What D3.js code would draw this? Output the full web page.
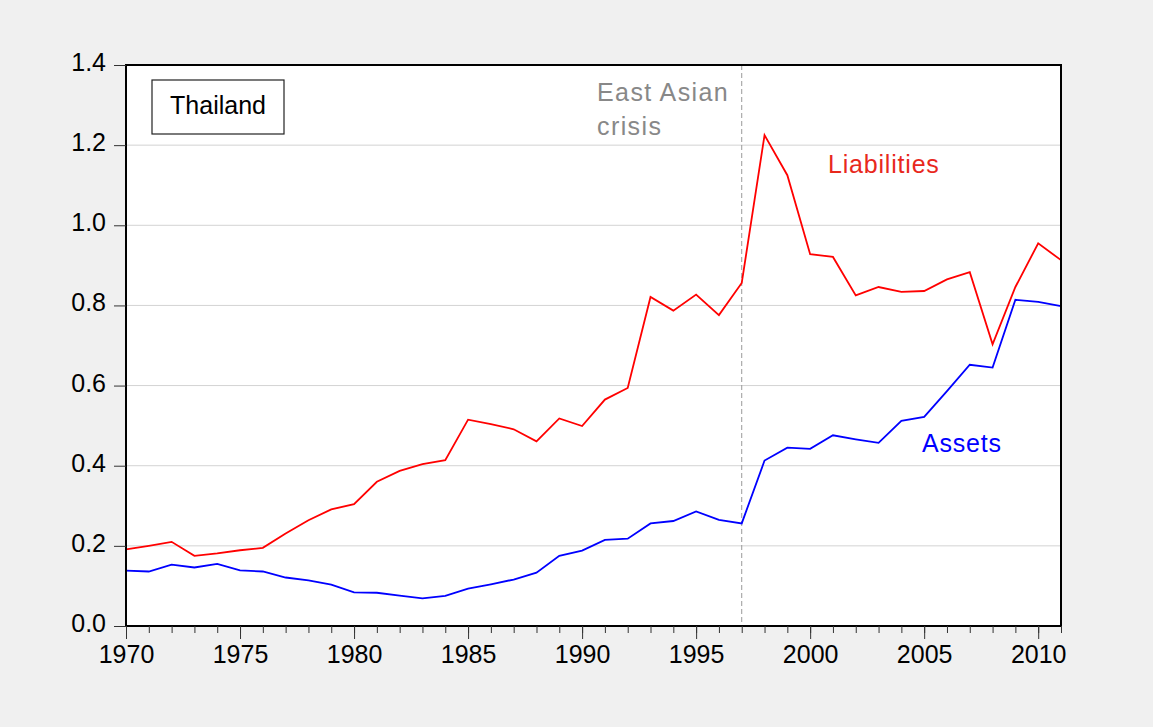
<!DOCTYPE html>
<html>
<head>
<meta charset="utf-8">
<script src="https://cdn.jsdelivr.net/npm/d3@7"></script>
<style>
body { margin: 0; background: #f0f0f0; }
svg { display: block; font-family: "Liberation Sans", Arial, sans-serif; }
</style>
</head>
<body>
<script>
var width = 1153;
var height = 727;
var plotLeft = 126, plotTop = 65, plotRight = 1061, plotBottom = 626;

var years = d3.range(1970, 2012);
var liabilities = [0.191, 0.200, 0.210, 0.175, 0.181, 0.189, 0.195, 0.231, 0.264, 0.291,
    0.304, 0.360, 0.387, 0.404, 0.414, 0.515, 0.504, 0.491, 0.461, 0.518,
    0.499, 0.565, 0.594, 0.821, 0.787, 0.827, 0.776, 0.856, 1.225, 1.125,
    0.928, 0.921, 0.825, 0.846, 0.834, 0.836, 0.865, 0.883, 0.703, 0.846,
    0.955, 0.913];
var assets = [0.138, 0.136, 0.153, 0.146, 0.155, 0.139, 0.136, 0.121, 0.114, 0.103,
    0.084, 0.083, 0.076, 0.069, 0.075, 0.093, 0.104, 0.116, 0.133, 0.175,
    0.188, 0.215, 0.218, 0.256, 0.262, 0.286, 0.265, 0.256, 0.413, 0.445,
    0.442, 0.476, 0.466, 0.457, 0.512, 0.522, 0.586, 0.652, 0.645, 0.814,
    0.809, 0.798];
var yTicks = [0.0, 0.2, 0.4, 0.6, 0.8, 1.0, 1.2, 1.4];
var xLabels = [1970, 1975, 1980, 1985, 1990, 1995, 2000, 2005, 2010];
var crisisYear = 1997;

var svg = d3.select("body").append("svg")
    .attr("width", width)
    .attr("height", height);

var x = d3.scaleLinear().domain([1970, 2011]).range([plotLeft, plotRight]);
var y = d3.scaleLinear().domain([0, 1.4]).range([plotBottom, plotTop]);

svg.append("rect")
    .attr("x", plotLeft).attr("y", plotTop)
    .attr("width", plotRight - plotLeft).attr("height", plotBottom - plotTop)
    .attr("fill", "#fff");

// grid
svg.append("g").selectAll("line")
    .data(yTicks.slice(1, -1))
    .enter().append("line")
    .attr("x1", plotLeft).attr("x2", plotRight)
    .attr("y1", d => y(d)).attr("y2", d => y(d))
    .attr("stroke", "#d3d3d3").attr("stroke-width", 1);

// crisis line
svg.append("line")
    .attr("x1", x(crisisYear)).attr("x2", x(crisisYear))
    .attr("y1", plotTop).attr("y2", plotBottom)
    .attr("stroke", "#999").attr("stroke-width", 1)
    .attr("stroke-dasharray", "5,3");

var line = d3.line()
    .x((d, i) => x(years[i]))
    .y(d => y(d));

svg.append("path")
    .datum(liabilities)
    .attr("fill", "none").attr("stroke", "#ff0000").attr("stroke-width", 1.8)
    .attr("d", line);

svg.append("path")
    .datum(assets)
    .attr("fill", "none").attr("stroke", "#0000ff").attr("stroke-width", 1.8)
    .attr("d", line);

// frame
svg.append("rect")
    .attr("x", plotLeft).attr("y", plotTop)
    .attr("width", plotRight - plotLeft).attr("height", plotBottom - plotTop)
    .attr("fill", "none").attr("stroke", "#000").attr("stroke-width", 2);

// axes
var yAxis = d3.axisLeft(y).tickValues(yTicks).tickFormat(d3.format(".1f")).tickSize(12).tickPadding(8);
var gy = svg.append("g").attr("transform", "translate(" + plotLeft + ",0)").call(yAxis);
gy.select(".domain").remove();
gy.selectAll("text").attr("font-size", 25).attr("font-family", "Liberation Sans, Arial").attr("dy", "0.22em").attr("fill", "#000");
gy.selectAll("line").attr("stroke", "#333");

var xMinor = d3.axisBottom(x).tickValues(years).tickSize(7).tickFormat("");
var gxm = svg.append("g").attr("transform", "translate(0," + plotBottom + ")").call(xMinor);
gxm.select(".domain").remove();
gxm.selectAll("line").attr("stroke", "#333");

var xAxis = d3.axisBottom(x).tickValues(xLabels).tickFormat(d3.format("d")).tickSize(13).tickPadding(6);
var gx = svg.append("g").attr("transform", "translate(0," + plotBottom + ")").call(xAxis);
gx.select(".domain").remove();
gx.selectAll("text").attr("font-size", 25).attr("font-family", "Liberation Sans, Arial").attr("fill", "#000");
gx.selectAll("line").attr("stroke", "#333");

// Thailand box
svg.append("rect")
    .attr("x", 152).attr("y", 80).attr("width", 132).attr("height", 54)
    .attr("fill", "#fff").attr("stroke", "#222").attr("stroke-width", 1.2);
svg.append("text")
    .attr("x", 218).attr("y", 114)
    .attr("text-anchor", "middle").attr("font-size", 25).attr("fill", "#000")
    .text("Thailand");

svg.append("text")
    .attr("x", 597).attr("y", 101)
    .attr("font-size", 25).attr("fill", "#888").attr("letter-spacing", 1.4)
    .text("East Asian");
svg.append("text")
    .attr("x", 597).attr("y", 135)
    .attr("font-size", 25).attr("fill", "#888").attr("letter-spacing", 1.4)
    .text("crisis");

svg.append("text")
    .attr("x", 828).attr("y", 173)
    .attr("font-size", 25).attr("fill", "#e8281c").attr("letter-spacing", 0.8)
    .text("Liabilities");

svg.append("text")
    .attr("x", 922).attr("y", 452)
    .attr("font-size", 25).attr("fill", "#0000ff").attr("letter-spacing", 0.8)
    .text("Assets");
</script>
</body>
</html>
